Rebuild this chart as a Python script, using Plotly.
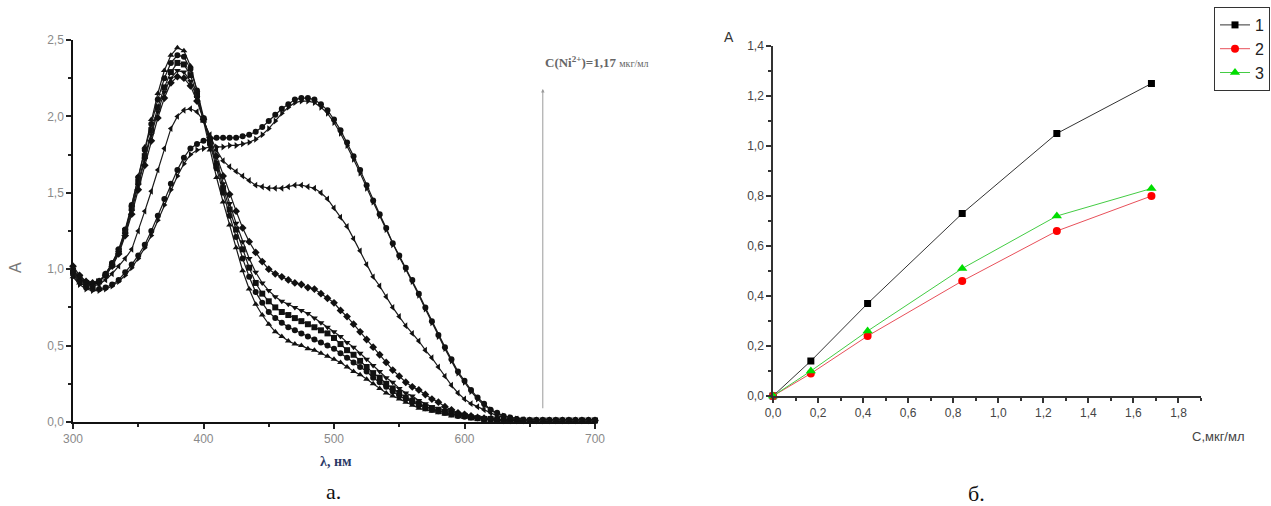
import plotly.graph_objects as go

W, H = 1271, 506

# ---------------- left panel (а.) : absorption spectra ----------------
wavelength = [300, 305, 310, 315, 320, 325, 330, 335, 340, 345, 350, 355, 360, 365, 370, 375,
              380, 385, 390, 395, 400, 405, 410, 415, 420, 425, 430, 435, 440, 445, 450, 455,
              460, 465, 470, 475, 480, 485, 490, 495, 500, 505, 510, 515, 520, 525, 530, 535,
              540, 545, 550, 555, 560, 565, 570, 575, 580, 585, 590, 595, 600, 605, 610, 615,
              620, 625, 630, 635, 640, 645, 650, 655, 660, 665, 670, 675, 680, 685, 690, 695, 700]

spec_a5 = [0.95, 0.91, 0.89, 0.89, 0.92, 0.97, 1.04, 1.12, 1.24, 1.42, 1.61, 1.80, 1.98, 2.15, 2.30, 2.40,
           2.45, 2.43, 2.33, 2.17, 1.97, 1.78, 1.60, 1.44, 1.29, 1.14, 0.99, 0.87, 0.77, 0.70, 0.64, 0.59,
           0.56, 0.53, 0.51, 0.50, 0.48, 0.47, 0.45, 0.43, 0.41, 0.39, 0.36, 0.33, 0.31, 0.28, 0.25, 0.22,
           0.19, 0.17, 0.15, 0.13, 0.11, 0.09, 0.08, 0.07, 0.06, 0.05, 0.04, 0.035, 0.03, 0.025, 0.02, 0.02,
           0.015, 0.01, 0.01, 0.01, 0.01, 0.01, 0.01, 0.01, 0.01, 0.01, 0.01, 0.01, 0.01, 0.01, 0.01, 0.01, 0.01]

spec_a4 = [0.97, 0.93, 0.90, 0.90, 0.92, 0.97, 1.04, 1.13, 1.26, 1.42, 1.60, 1.78, 1.95, 2.11, 2.25, 2.35,
           2.40, 2.39, 2.31, 2.17, 1.99, 1.82, 1.66, 1.50, 1.35, 1.21, 1.07, 0.95, 0.85, 0.78, 0.72, 0.68,
           0.65, 0.62, 0.60, 0.58, 0.56, 0.54, 0.52, 0.50, 0.48, 0.45, 0.42, 0.39, 0.36, 0.33, 0.29, 0.26,
           0.23, 0.20, 0.17, 0.15, 0.13, 0.11, 0.09, 0.08, 0.07, 0.06, 0.05, 0.04, 0.035, 0.03, 0.025, 0.02,
           0.02, 0.015, 0.01, 0.01, 0.01, 0.01, 0.01, 0.01, 0.01, 0.01, 0.01, 0.01, 0.01, 0.01, 0.01, 0.01, 0.01]

spec_a3 = [0.99, 0.94, 0.91, 0.90, 0.92, 0.96, 1.03, 1.12, 1.25, 1.40, 1.57, 1.74, 1.91, 2.06, 2.19, 2.29,
           2.35, 2.34, 2.27, 2.14, 1.98, 1.83, 1.68, 1.53, 1.39, 1.26, 1.13, 1.01, 0.91, 0.84, 0.79, 0.75,
           0.72, 0.70, 0.68, 0.66, 0.64, 0.62, 0.60, 0.58, 0.55, 0.51, 0.47, 0.44, 0.40, 0.36, 0.32, 0.29,
           0.25, 0.22, 0.19, 0.16, 0.14, 0.12, 0.10, 0.09, 0.075, 0.065, 0.055, 0.045, 0.04, 0.03, 0.025, 0.02,
           0.02, 0.015, 0.01, 0.01, 0.01, 0.01, 0.01, 0.01, 0.01, 0.01, 0.01, 0.01, 0.01, 0.01, 0.01, 0.01, 0.01]

spec_a2 = [1.00, 0.95, 0.92, 0.91, 0.92, 0.96, 1.02, 1.11, 1.23, 1.38, 1.55, 1.72, 1.88, 2.03, 2.16, 2.25,
           2.30, 2.29, 2.23, 2.12, 1.98, 1.84, 1.70, 1.56, 1.43, 1.30, 1.18, 1.07, 0.98, 0.91, 0.86, 0.82,
           0.79, 0.77, 0.75, 0.73, 0.71, 0.68, 0.65, 0.62, 0.59, 0.56, 0.52, 0.49, 0.45, 0.41, 0.37, 0.33,
           0.29, 0.26, 0.22, 0.19, 0.17, 0.14, 0.12, 0.10, 0.09, 0.075, 0.065, 0.055, 0.045, 0.035, 0.03, 0.025,
           0.02, 0.015, 0.01, 0.01, 0.01, 0.01, 0.01, 0.01, 0.01, 0.01, 0.01, 0.01, 0.01, 0.01, 0.01, 0.01, 0.01]

spec_a1 = [1.02, 0.96, 0.92, 0.91, 0.92, 0.96, 1.02, 1.10, 1.22, 1.36, 1.52, 1.68, 1.84, 1.99, 2.12, 2.22,
           2.26, 2.25, 2.20, 2.10, 1.98, 1.86, 1.74, 1.61, 1.49, 1.38, 1.27, 1.18, 1.11, 1.05, 1.00, 0.97,
           0.95, 0.93, 0.91, 0.90, 0.88, 0.87, 0.84, 0.81, 0.78, 0.73, 0.69, 0.64, 0.59, 0.54, 0.49, 0.44,
           0.39, 0.34, 0.30, 0.26, 0.23, 0.21, 0.18, 0.15, 0.13, 0.10, 0.08, 0.06, 0.05, 0.04, 0.03, 0.025,
           0.02, 0.015, 0.01, 0.01, 0.01, 0.01, 0.01, 0.01, 0.01, 0.01, 0.01, 0.01, 0.01, 0.01, 0.01, 0.01, 0.01]

spec_e = [0.96, 0.92, 0.90, 0.89, 0.90, 0.93, 0.97, 1.02, 1.07, 1.13, 1.25, 1.38, 1.51, 1.65, 1.79, 1.92,
          2.00, 2.04, 2.05, 2.03, 1.97, 1.88, 1.78, 1.71, 1.67, 1.64, 1.61, 1.58, 1.55, 1.54, 1.53, 1.53,
          1.53, 1.54, 1.55, 1.55, 1.54, 1.53, 1.50, 1.46, 1.40, 1.34, 1.28, 1.20, 1.12, 1.03, 0.95, 0.89,
          0.82, 0.75, 0.69, 0.63, 0.58, 0.53, 0.47, 0.42, 0.36, 0.30, 0.24, 0.19, 0.15, 0.12, 0.10, 0.08,
          0.06, 0.04, 0.03, 0.02, 0.02, 0.015, 0.01, 0.01, 0.01, 0.01, 0.01, 0.01, 0.01, 0.01, 0.01, 0.01, 0.01]

spec_f = [0.98, 0.92, 0.88, 0.87, 0.87, 0.88, 0.90, 0.93, 0.98, 1.03, 1.09, 1.16, 1.25, 1.35, 1.46, 1.56,
          1.65, 1.73, 1.79, 1.82, 1.84, 1.85, 1.86, 1.86, 1.86, 1.86, 1.87, 1.88, 1.90, 1.93, 1.97, 2.01,
          2.05, 2.08, 2.11, 2.12, 2.12, 2.11, 2.08, 2.04, 1.98, 1.91, 1.83, 1.74, 1.65, 1.55, 1.45, 1.36,
          1.27, 1.17, 1.09, 1.01, 0.93, 0.84, 0.75, 0.66, 0.57, 0.49, 0.41, 0.33, 0.27, 0.21, 0.16, 0.12,
          0.08, 0.06, 0.04, 0.03, 0.02, 0.015, 0.01, 0.01, 0.01, 0.01, 0.01, 0.01, 0.01, 0.01, 0.01, 0.01, 0.01]

spec_g = [0.95, 0.90, 0.87, 0.86, 0.86, 0.87, 0.89, 0.92, 0.96, 1.01, 1.07, 1.14, 1.22, 1.32, 1.42, 1.52,
          1.61, 1.69, 1.75, 1.78, 1.79, 1.80, 1.80, 1.80, 1.81, 1.81, 1.82, 1.83, 1.85, 1.88, 1.92, 1.97,
          2.02, 2.06, 2.09, 2.10, 2.10, 2.09, 2.06, 2.02, 1.96, 1.89, 1.81, 1.72, 1.63, 1.53, 1.44, 1.35,
          1.26, 1.16, 1.08, 1.00, 0.92, 0.83, 0.74, 0.65, 0.56, 0.48, 0.40, 0.32, 0.26, 0.20, 0.15, 0.11,
          0.08, 0.05, 0.04, 0.03, 0.02, 0.015, 0.01, 0.01, 0.01, 0.01, 0.01, 0.01, 0.01, 0.01, 0.01, 0.01, 0.01]

spectra = [spec_a5, spec_a4, spec_a3, spec_a2, spec_a1, spec_e, spec_f, spec_g]
spec_symbols = ["triangle-up", "circle", "square", "triangle-down", "diamond",
                "triangle-left", "circle", "triangle-right"]

left_xticks = [300, 400, 500, 600, 700]
left_yticks = [0.0, 0.5, 1.0, 1.5, 2.0, 2.5]
marker_wavelength = 660
marker_span = [0.08, 2.18]

# ---------------- right panel (б.) : calibration ----------------
conc = [0.0, 0.168, 0.42, 0.84, 1.26, 1.68]
series_1 = [0.0, 0.14, 0.37, 0.73, 1.05, 1.25]
series_2 = [0.0, 0.09, 0.24, 0.46, 0.66, 0.80]
series_3 = [0.0, 0.10, 0.26, 0.51, 0.72, 0.83]
series_names = ["1", "2", "3"]

fig = go.Figure()

for ys, sym in zip(spectra, spec_symbols):
    assert len(ys) == len(wavelength)
    fig.add_trace(go.Scatter(
        x=wavelength, y=ys, mode="lines+markers", showlegend=False,
        line=dict(color="#1a1a1a", width=1.2),
        marker=dict(symbol=sym, size=6, color="#111111"),
        cliponaxis=False, xaxis="x", yaxis="y"))

right_styles = [
    (series_1, "#333333", "#000000", "square", 7),
    (series_2, "#e8505a", "#ff0000", "circle", 8),
    (series_3, "#44cc44", "#00dd00", "triangle-up", 9),
]
for name, (ys, lc, mc, sym, sz) in zip(series_names, right_styles):
    fig.add_trace(go.Scatter(
        x=conc, y=ys, mode="lines+markers", name=name,
        line=dict(color=lc, width=1),
        marker=dict(symbol=sym, size=sz, color=mc),
        cliponaxis=False, xaxis="x2", yaxis="y2"))

def px_x(p):
    return p / W

def px_y(p):
    return 1 - p / H

left_tick_font = dict(family="Liberation Sans, Arial, sans-serif", size=12, color="#8a8a8a")
right_tick_font = dict(family="Liberation Sans, Arial, sans-serif", size=12, color="#444444")

fig.update_layout(
    width=W, height=H,
    margin=dict(l=0, r=0, t=0, b=0, pad=0, autoexpand=False),
    paper_bgcolor="white", plot_bgcolor="white",
    separators=", ",
    xaxis=dict(domain=[px_x(73), px_x(595)], range=[300, 700], anchor="y", automargin=False,
               tickvals=left_xticks, ticks="outside", ticklen=5, tickwidth=1.5,
               tickcolor="#222", showline=True, linecolor="#111", linewidth=1.5,
               showgrid=False, zeroline=False, tickfont=left_tick_font,
               minor=dict(dtick=50, tick0=300, ticks="outside", ticklen=3, tickcolor="#222", showgrid=False)),
    yaxis=dict(domain=[px_y(422), px_y(40)], range=[0, 2.5], anchor="x", automargin=False,
               tickvals=left_yticks, tickformat=".1f", ticks="outside", ticklen=5, tickwidth=1.5,
               tickcolor="#222", showline=True, linecolor="#111", linewidth=1.5,
               showgrid=False, zeroline=False, tickfont=left_tick_font,
               minor=dict(dtick=0.25, tick0=0, ticks="outside", ticklen=3, tickcolor="#222", showgrid=False)),
    xaxis2=dict(domain=[px_x(773), px_x(1201)], range=[0, 1.9], anchor="y2", automargin=False,
                dtick=0.2, tick0=0, tickformat=".1f", ticks="outside", ticklen=5, tickwidth=1.5,
                tickcolor="#333", showline=True, linecolor="#333", linewidth=1.5,
                showgrid=False, zeroline=False, tickfont=right_tick_font,
                minor=dict(dtick=0.1, tick0=0, ticks="outside", ticklen=3, tickcolor="#333", showgrid=False)),
    yaxis2=dict(domain=[px_y(396), px_y(46)], range=[0, 1.4], anchor="x2", automargin=False,
                dtick=0.2, tick0=0, tickformat=".1f", ticks="outside", ticklen=5, tickwidth=1.5,
                tickcolor="#333", showline=True, linecolor="#333", linewidth=1.5,
                showgrid=False, zeroline=False, tickfont=right_tick_font,
                minor=dict(dtick=0.1, tick0=0, ticks="outside", ticklen=3, tickcolor="#333", showgrid=False)),
    legend=dict(x=px_x(1270), y=px_y(7), xanchor="right", yanchor="top",
                bordercolor="#333", borderwidth=1, bgcolor="white",
                font=dict(family="Liberation Sans, Arial, sans-serif", size=16, color="#222"),
                itemwidth=30, tracegroupgap=0),
)

annotations = [
    dict(text="A", x=px_x(15), y=px_y(268), textangle=-90,
         font=dict(family="Liberation Sans, Arial", size=16, color="#777")),
    dict(text="<b>λ, нм</b>", x=px_x(336), y=px_y(461),
         font=dict(family="Liberation Serif, Times New Roman, serif", size=14, color="#2b3a67")),
    dict(text="а.", x=px_x(333), y=px_y(491),
         font=dict(family="Liberation Serif, Times New Roman, serif", size=22, color="#111")),
    dict(text="б.", x=px_x(976), y=px_y(493),
         font=dict(family="Liberation Serif, Times New Roman, serif", size=22, color="#111")),
    dict(text="A", x=px_x(729), y=px_y(37),
         font=dict(family="Liberation Sans, Arial", size=14, color="#333")),
    dict(text="C,мкг/мл", x=px_x(1218), y=px_y(436),
         font=dict(family="Liberation Sans, Arial", size=13, color="#444")),
    dict(text="<b>C(Ni<sup>2+</sup>)=1,17</b> <span style='font-size:10px'>мкг/мл</span>",
         x=px_x(597), y=px_y(62),
         font=dict(family="Liberation Serif, Times New Roman, serif", size=13, color="#666")),
]
for a in annotations:
    a.update(xref="paper", yref="paper", showarrow=False, xanchor="center", yanchor="middle")
    fig.add_annotation(**a)

fig.add_annotation(x=marker_wavelength, y=marker_span[1], ax=marker_wavelength, ay=marker_span[0],
                   xref="x", yref="y", axref="x", ayref="y", text="", showarrow=True,
                   arrowhead=2, arrowsize=0.7, arrowwidth=1, arrowcolor="#9a9a9a")

fig.write_html("out.html")
